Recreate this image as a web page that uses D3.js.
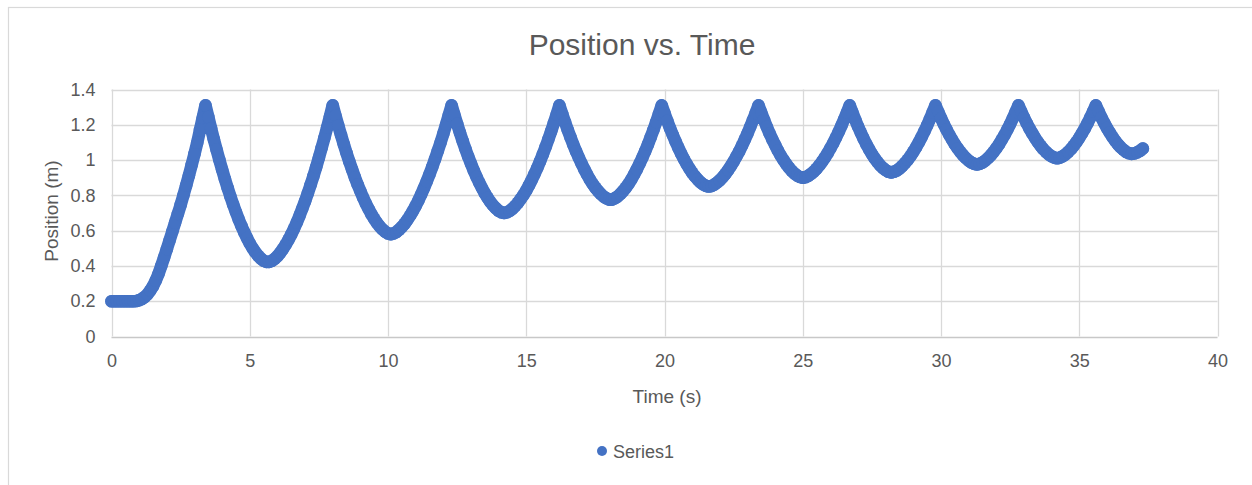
<!DOCTYPE html>
<html>
<head>
<meta charset="utf-8">
<script src="https://cdn.jsdelivr.net/npm/d3@7"></script>
<style>
  body { margin: 0; background: #fff; }
  text { font-family: "Liberation Sans", Arial, sans-serif; fill: #595959; }
</style>
</head>
<body>
<div class="pos-chart"></div>
<script>
// Position vs. Time (scatter, one series)
var width = 1252;
var height = 485;

var chartTitle = "Position vs. Time";
var xTitle = "Time (s)";
var yTitle = "Position (m)";
var seriesName = "Series1";

var xTicks = [0, 5, 10, 15, 20, 25, 30, 35, 40];
var yTicks = [0, 0.2, 0.4, 0.6, 0.8, 1, 1.2, 1.4];
var yTickLabels = ["0", "0.2", "0.4", "0.6", "0.8", "1", "1.2", "1.4"];

// sensor samples, one every 0.1 s starting at t = 0
var sampleStart = 0;
var sampleStep = 0.1;
var positions = [
    0.200, 0.200, 0.200, 0.200, 0.200, 0.200, 0.200, 0.200, 0.200, 0.201,
    0.206, 0.213, 0.224, 0.239, 0.260, 0.285, 0.317, 0.355, 0.400, 0.447,
    0.495, 0.545, 0.595, 0.645, 0.695, 0.745, 0.800, 0.856, 0.913, 0.973,
    1.034, 1.098, 1.170, 1.240, 1.310, 1.244, 1.180, 1.118, 1.059, 1.001,
    0.946, 0.893, 0.842, 0.794, 0.748, 0.705, 0.664, 0.626, 0.591, 0.558,
    0.528, 0.501, 0.478, 0.458, 0.442, 0.430, 0.423, 0.423, 0.429, 0.440,
    0.455, 0.474, 0.496, 0.521, 0.548, 0.578, 0.611, 0.646, 0.684, 0.725,
    0.767, 0.812, 0.859, 0.908, 0.959, 1.013, 1.069, 1.126, 1.185, 1.247,
    1.310, 1.252, 1.196, 1.142, 1.090, 1.040, 0.992, 0.947, 0.903, 0.862,
    0.824, 0.787, 0.753, 0.722, 0.693, 0.667, 0.644, 0.624, 0.607, 0.594,
    0.584, 0.580, 0.584, 0.592, 0.605, 0.621, 0.639, 0.661, 0.685, 0.711,
    0.740, 0.771, 0.805, 0.841, 0.879, 0.919, 0.961, 1.005, 1.051, 1.099,
    1.149, 1.201, 1.255, 1.310, 1.257, 1.205, 1.156, 1.108, 1.063, 1.020,
    0.980, 0.941, 0.905, 0.872, 0.841, 0.812, 0.786, 0.763, 0.743, 0.727,
    0.713, 0.704, 0.700, 0.704, 0.712, 0.724, 0.740, 0.758, 0.779, 0.802,
    0.828, 0.857, 0.888, 0.921, 0.956, 0.993, 1.033, 1.074, 1.118, 1.163,
    1.210, 1.259, 1.310, 1.262, 1.216, 1.171, 1.129, 1.088, 1.050, 1.014,
    0.980, 0.948, 0.918, 0.890, 0.865, 0.843, 0.824, 0.807, 0.793, 0.783,
    0.776, 0.776, 0.783, 0.793, 0.807, 0.824, 0.843, 0.865, 0.890, 0.918,
    0.948, 0.980, 1.014, 1.050, 1.088, 1.129, 1.171, 1.216, 1.262, 1.310,
    1.265, 1.222, 1.181, 1.142, 1.105, 1.070, 1.037, 1.006, 0.978, 0.952,
    0.928, 0.908, 0.890, 0.874, 0.862, 0.854, 0.850, 0.853, 0.861, 0.872,
    0.886, 0.902, 0.921, 0.943, 0.966, 0.992, 1.020, 1.049, 1.081, 1.115,
    1.150, 1.188, 1.227, 1.267, 1.310, 1.268, 1.227, 1.188, 1.151, 1.117,
    1.085, 1.054, 1.026, 1.001, 0.978, 0.957, 0.939, 0.924, 0.912, 0.904,
    0.900, 0.903, 0.911, 0.922, 0.935, 0.951, 0.970, 0.991, 1.014, 1.039,
    1.067, 1.096, 1.127, 1.160, 1.195, 1.232, 1.270, 1.310, 1.268, 1.228,
    1.190, 1.155, 1.121, 1.090, 1.061, 1.034, 1.010, 0.989, 0.970, 0.955,
    0.943, 0.934, 0.930, 0.934, 0.941, 0.952, 0.966, 0.983, 1.002, 1.023,
    1.047, 1.073, 1.101, 1.131, 1.163, 1.197, 1.233, 1.271, 1.310, 1.273,
    1.238, 1.204, 1.173, 1.143, 1.116, 1.090, 1.067, 1.046, 1.027, 1.011,
    0.997, 0.986, 0.979, 0.975, 0.979, 0.986, 0.997, 1.011, 1.027, 1.046,
    1.067, 1.090, 1.116, 1.143, 1.173, 1.204, 1.238, 1.273, 1.310, 1.275,
    1.241, 1.209, 1.179, 1.152, 1.126, 1.102, 1.081, 1.062, 1.046, 1.032,
    1.021, 1.014, 1.010, 1.014, 1.021, 1.032, 1.046, 1.062, 1.081, 1.102,
    1.126, 1.152, 1.179, 1.209, 1.241, 1.275, 1.310, 1.275, 1.242, 1.211,
    1.182, 1.156, 1.131, 1.109, 1.089, 1.072, 1.058, 1.046, 1.039, 1.035,
    1.038, 1.044, 1.053, 1.065
];

var dotColor = "#4472c4";
var gridColor = "#d9d9d9";

var plot = { left: 111.5, right: 1217.5, top: 89.5, bottom: 336.5 };

var x = d3.scaleLinear().domain([0, 40]).range([plot.left, plot.right]);
var y = d3.scaleLinear().domain([0, 1.4]).range([plot.bottom, plot.top]);

var data = positions.map(function (p, i) {
    return { t: sampleStart + i * sampleStep, pos: p };
});

var svg = d3.select(".pos-chart")
    .append("svg")
    .attr("width", width)
    .attr("height", height);

svg.append("rect")
    .attr("width", width)
    .attr("height", height)
    .attr("fill", "#fff");

// chart area frame
svg.append("rect")
    .attr("x", 8.5)
    .attr("y", 7.5)
    .attr("width", 1400)
    .attr("height", 600)
    .attr("fill", "none")
    .attr("stroke", "#d9d9d9")
    .attr("stroke-width", 1.2);

// gridlines
svg.append("g")
    .selectAll("line.hgrid")
    .data(yTicks)
    .enter()
    .append("line")
    .attr("class", "hgrid")
    .attr("x1", plot.left)
    .attr("x2", plot.right)
    .attr("y1", function (d) { return Math.round(y(d)) + 0.5; })
    .attr("y2", function (d) { return Math.round(y(d)) + 0.5; })
    .attr("stroke", function (d) { return d === 0 ? "#c8c8c8" : gridColor; })
    .attr("stroke-width", 1.3);

svg.append("g")
    .selectAll("line.vgrid")
    .data(xTicks)
    .enter()
    .append("line")
    .attr("class", "vgrid")
    .attr("x1", function (d) { return Math.round(x(d)) + 0.5; })
    .attr("x2", function (d) { return Math.round(x(d)) + 0.5; })
    .attr("y1", plot.top)
    .attr("y2", plot.bottom)
    .attr("stroke", gridColor)
    .attr("stroke-width", 1.3);

// axes (labels only)
var xAxis = d3.axisBottom(x)
    .tickValues(xTicks)
    .tickSize(0)
    .tickPadding(0);

svg.append("g")
    .attr("class", "x axis")
    .attr("transform", "translate(0," + (plot.bottom + 18) + ")")
    .call(xAxis)
    .call(function (g) { g.select(".domain").remove(); })
    .selectAll("text")
    .style("font-size", "18px")
    .style("font-family", "'Liberation Sans', Arial, sans-serif")
    .attr("fill", "#595959");

var yAxis = d3.axisLeft(y)
    .tickValues(yTicks)
    .tickFormat(function (d, i) { return yTickLabels[i]; })
    .tickSize(0)
    .tickPadding(0);

svg.append("g")
    .attr("class", "y axis")
    .attr("transform", "translate(" + (plot.left - 16) + ",0)")
    .call(yAxis)
    .call(function (g) { g.select(".domain").remove(); })
    .selectAll("text")
    .style("font-size", "18px")
    .style("font-family", "'Liberation Sans', Arial, sans-serif")
    .attr("fill", "#595959");

// titles
svg.append("text")
    .attr("x", 642)
    .attr("y", 55)
    .attr("text-anchor", "middle")
    .style("font-size", "30px")
    .text(chartTitle);

svg.append("text")
    .attr("x", 667)
    .attr("y", 403)
    .attr("text-anchor", "middle")
    .style("font-size", "19px")
    .text(xTitle);

svg.append("text")
    .attr("transform", "translate(58," + ((plot.top + plot.bottom) / 2 - 2) + ") rotate(-90)")
    .attr("text-anchor", "middle")
    .style("font-size", "19px")
    .text(yTitle);

// the series: dense samples drawn as a band of markers
var band = d3.line()
    .x(function (d) { return x(d.t); })
    .y(function (d) { return y(d.pos); });

svg.append("path")
    .datum(data)
    .attr("d", band)
    .attr("fill", "none")
    .attr("stroke", dotColor)
    .attr("stroke-width", 12.6)
    .attr("stroke-linecap", "round")
    .attr("stroke-linejoin", "round");

svg.append("g")
    .selectAll("circle")
    .data(data)
    .enter()
    .append("circle")
    .attr("cx", function (d) { return x(d.t); })
    .attr("cy", function (d) { return y(d.pos); })
    .attr("r", 6.3)
    .attr("fill", dotColor);

// legend
var legend = svg.append("g")
    .attr("transform", "translate(602,451)");

legend.append("circle")
    .attr("r", 5)
    .attr("fill", dotColor);

legend.append("text")
    .attr("x", 11)
    .attr("y", 6.5)
    .style("font-size", "18px")
    .text(seriesName);
</script>
</body>
</html>
